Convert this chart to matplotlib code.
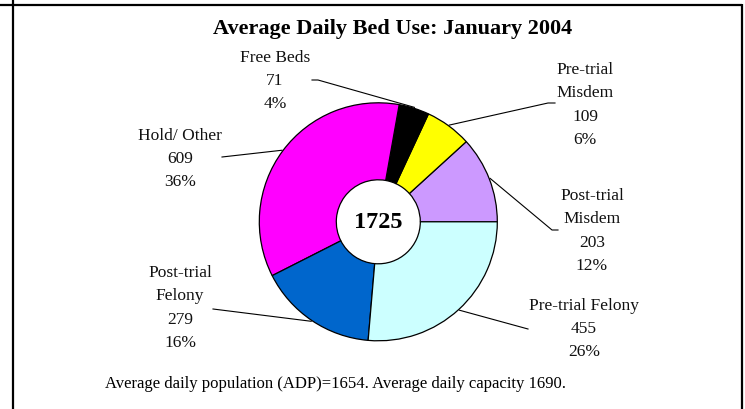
import numpy as np
import matplotlib.pyplot as plt

# slices, counter-clockwise from 3 o'clock
labels = ['Post-trial\nMisdem', 'Pre-trial\nMisdem', 'Free Beds', 'Hold/ Other',
          'Post-trial\nFelony', 'Pre-trial Felony']
values = [203, 109, 71, 609, 279, 455]
pcts = [12, 6, 4, 36, 16, 26]
colors = ['#CC99FF', '#FFFF00', '#000000', '#FF00FF', '#0066CC', '#CCFFFF']
total_label = 1725

title = 'Average Daily Bed Use: January 2004'
footer = 'Average daily population (ADP)=1654. Average daily capacity 1690.'

# layout in pixels (y downwards)
cx, cy, R, r_in = 378.3, 222.8, 119, 42
label_xy = [(592, 231), (585, 105), (275, 81), (180, 159), (180, 308), (584, 329)]
leader_start = [[(558, 231), (552, 231)], [(555, 104), (548, 104)], [(312, 81), (318, 81)],
                [(222, 158)], [(213, 310)], [(528, 330)]]

plt.rcParams['font.family'] = ['Liberation Serif', 'DejaVu Serif']

fig = plt.figure(figsize=(7.45, 4.10), dpi=100)
ax = fig.add_axes([0, 0, 1, 1])

wedges, _ = ax.pie(values, colors=colors, startangle=0, counterclock=False,
                   radius=R, center=(cx, cy),
                   wedgeprops=dict(width=R - r_in, edgecolor='black', linewidth=0.9))
ax.set_xlim(0, 745)
ax.set_ylim(410, 0)
ax.set_aspect('equal')
ax.axis('off')

ax.text(cx, cy, str(total_label), ha='center', va='center', fontsize=17.5, fontweight='bold')

for w, lab, v, p, (lx, ly), pts in zip(wedges, labels, values, pcts, label_xy, leader_start):
    ax.text(lx, ly, '%s\n%d\n%d%%' % (lab, v, p), ha='center', va='center',
            fontsize=12.5, linespacing=1.6, color='#111111')
    mid = np.deg2rad((w.theta1 + w.theta2) / 2)
    end = (cx + 120 * np.cos(mid), cy + 120 * np.sin(mid))
    xs = [q[0] for q in pts] + [end[0]]
    ys = [q[1] for q in pts] + [end[1]]
    ax.plot(xs, ys, color='black', lw=0.8)

ax.text(393, 29, title, ha='center', va='center', fontsize=16, fontweight='bold')
ax.text(105, 384, footer, ha='left', va='center', fontsize=12)

# frame lines
ax.plot([0, 742], [5.5, 5.5], color='black', lw=1.6, solid_capstyle='butt')
ax.plot([13, 13], [0, 410], color='black', lw=1.6, solid_capstyle='butt')
ax.plot([742, 742], [5, 410], color='black', lw=1.6, solid_capstyle='butt')

fig.savefig('out.png', dpi=100)
